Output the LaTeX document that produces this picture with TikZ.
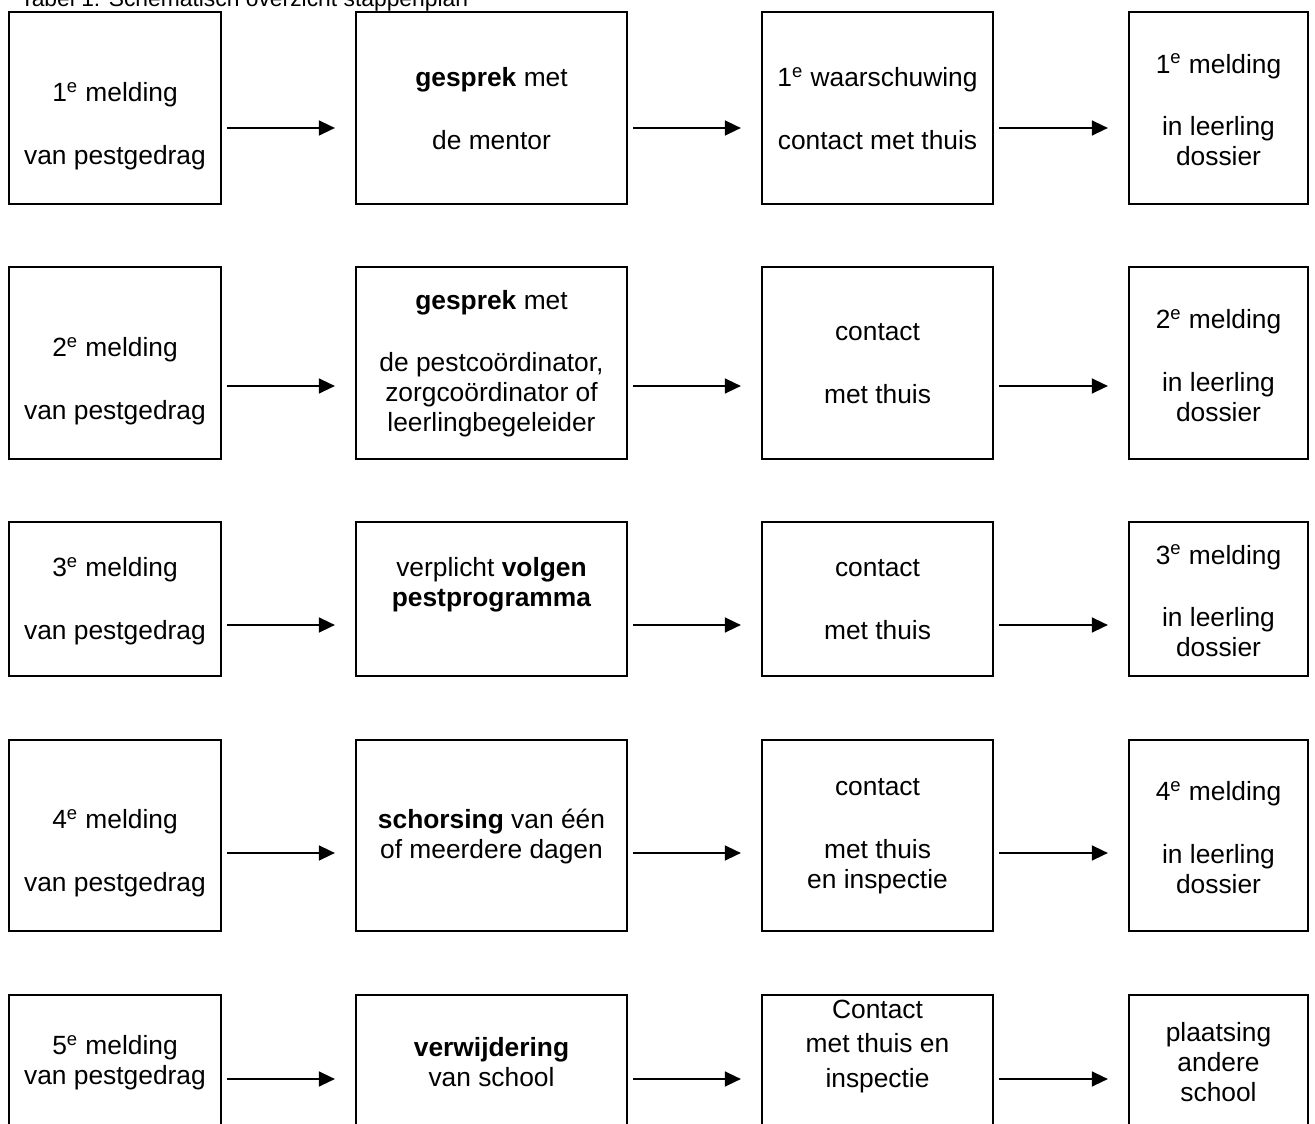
\documentclass[tikz,border=0pt]{standalone}
\usepackage{fontspec}
\setmainfont{Liberation Sans}
\usetikzlibrary{arrows.meta}
\tikzset{
  vak/.style={rectangle, draw, line width=1.3pt, inner sep=0pt},
  tekst/.style={align=center, font=\fontsize{15}{17}\selectfont, inner sep=0pt},
  pijl/.style={-{Triangle[length=3.2mm,width=3mm]}, line width=0.85pt, shorten <=1mm, shorten >=4mm},
  titel/.style={font=\fontsize{13}{15}\selectfont, inner sep=0pt, anchor=base west}
}

\begin{document}
\begin{tikzpicture}[x=0.02cm, y=-0.02cm]
\useasboundingbox (0,0) rectangle (1315,1124);
\clip (0,0) rectangle (1315,1124);
\node[titel] (titel) at (20,7) {Tabel 1: Schematisch overzicht stappenplan};

% vakken: rij/midden/hoogte en kolom/midden/breedte
\foreach \r/\y/\h in {1/108/3.84, 2/363/3.84, 3/599/3.08, 4/835.5/3.82, 5/1062.5/2.7}
  \foreach \k/\x/\w in {1/115/4.24, 2/491.5/5.42, 3/877.5/4.62, 4/1218.5/3.58}
    \node[vak, minimum width=\w cm, minimum height=\h cm] (b\r\k) at (\x,\y) {};

% rij 1
\node[tekst] (t11) at (115,126.5) {1\textsuperscript{e} melding\\[6.6mm]van pestgedrag};
\node[tekst] (t12) at (491.5,108.5) {\textbf{gesprek} met\\[6.6mm]de mentor};
\node[tekst] (t13) at (877.5,108.5) {1\textsuperscript{e} waarschuwing\\[6.6mm]contact met thuis};
\node[tekst] (t14) at (1218.5,110) {1\textsuperscript{e} melding\\[6.6mm]in leerling\\dossier};
% rij 2
\node[tekst] (t21) at (115,381.5) {2\textsuperscript{e} melding\\[6.6mm]van pestgedrag};
\node[tekst] (t22) at (491.5,363.5) {\textbf{gesprek} met\\[6.6mm]de pestco\"ordinator,\\zorgco\"ordinator of\\leerlingbegeleider};
\node[tekst] (t23) at (877.5,364) {contact\\[6.6mm]met thuis};
\node[tekst] (t24) at (1218.5,365.5) {2\textsuperscript{e} melding\\[6.6mm]in leerling\\dossier};
% rij 3
\node[tekst] (t31) at (115,601.5) {3\textsuperscript{e} melding\\[6.6mm]van pestgedrag};
\node[tekst] (t32) at (491.5,584.5) {verplicht \textbf{volgen}\\\textbf{pestprogramma}};
\node[tekst] (t33) at (877.5,600) {contact\\[6.6mm]met thuis};
\node[tekst] (t34) at (1218.5,601) {3\textsuperscript{e} melding\\[6.6mm]in leerling\\dossier};
% rij 4
\node[tekst] (t41) at (115,853.5) {4\textsuperscript{e} melding\\[6.6mm]van pestgedrag};
\node[tekst] (t42) at (491.5,836.5) {\textbf{schorsing} van \'e\'en\\of meerdere dagen};
\node[tekst] (t43) at (877.5,836) {contact\\[6.6mm]met thuis\\en inspectie};
\node[tekst] (t44) at (1218.5,837.5) {4\textsuperscript{e} melding\\[6.6mm]in leerling\\dossier};
% rij 5
\node[tekst] (t51) at (115,1062.5) {5\textsuperscript{e} melding\\van pestgedrag};
\node[tekst] (t52) at (491.5,1062.5) {\textbf{verwijdering}\\van school};
\node[tekst] (t53) at (877.5,1046.5) {Contact\\[1mm]met thuis en\\[1mm]inspectie};
\node[tekst] (t54) at (1218.5,1062) {plaatsing\\andere\\school};

% pijlen per rij
\foreach \r/\y in {1/128, 2/386, 3/625, 4/853, 5/1079} {
  \coordinate (h\r) at (0,\y);
  \foreach \k/\n in {1/2, 2/3, 3/4}
    \draw[pijl] (b\r\k.east |- h\r) -- (b\r\n.west |- h\r);
}
\end{tikzpicture}
\end{document}
